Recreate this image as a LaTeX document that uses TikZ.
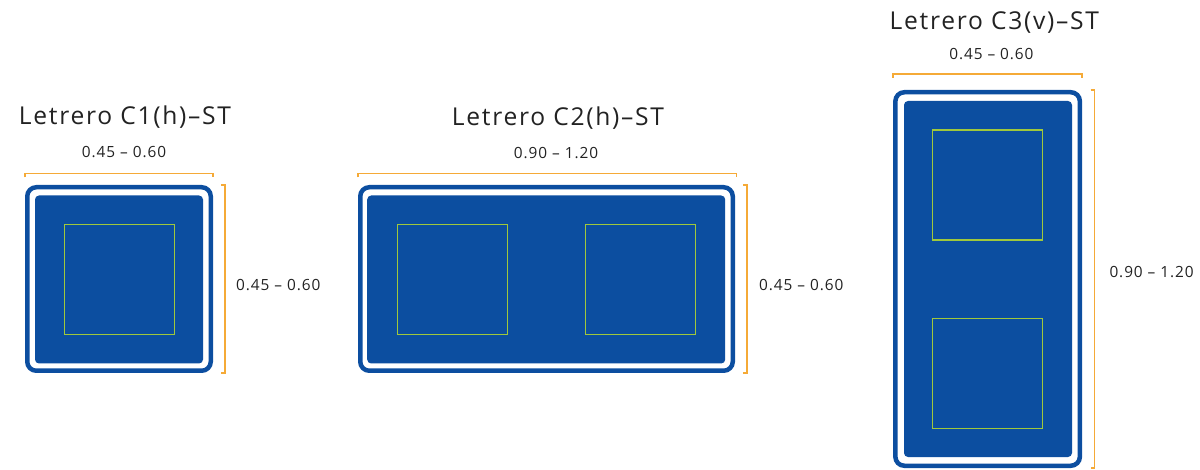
\documentclass[tikz,border=0pt]{standalone}
\usepackage{fontspec}
\setmainfont{Open Sans}
\newfontfamily\titlefont[LetterSpace=7]{Open Sans}
\newfontfamily\dimfont[LetterSpace=6]{Open Sans}
\usetikzlibrary{calc}
\definecolor{signblue}{RGB}{12,78,160}
\definecolor{panelline}{RGB}{160,200,60}
\definecolor{dimorange}{RGB}{245,170,55}
\definecolor{textgray}{RGB}{34,34,34}
\tikzset{
  signframe/.style={draw=signblue, line width=4.5pt, fill=white, rounded corners=9pt, inner sep=0pt, outer sep=2.25pt},
  signface/.style={fill=signblue, rounded corners=4pt, inner sep=0pt, outer sep=0pt},
  panel/.style={draw=panelline, line width=1.2pt, minimum width=110pt, minimum height=110pt, inner sep=0pt},
  dimline/.style={draw=dimorange, line width=1.4pt},
  dimtext/.style={text=textgray, font=\dimfont\fontsize{15.4}{18}\selectfont, inner sep=0pt},
  titletext/.style={text=textgray, font=\titlefont\fontsize{24.6}{28}\selectfont, inner sep=0pt},
}
\begin{document}
\begin{tikzpicture}[x=1pt,y=-1pt]
\useasboundingbox (0,0) rectangle (1200,470);

% ---------- C1 ----------
\node[signframe, minimum width=183.5pt, minimum height=183.5pt] (c1) at (119,279) {};
\node[signface, minimum width=168pt, minimum height=168pt] (c1f) at (119,279.5) {};
\node[panel] (c1p) at (119.3,279.3) {};
\node[titletext, anchor=base] (c1t) at (125,124.3) {Letrero C1(h)–ST};
\coordinate (c1a) at ($(c1.north west)+(0,-11.5)$);
\coordinate (c1b) at ($(c1.north east)+(0,-11.5)$);
\draw[dimline] ($(c1a)+(0,4)$) -- (c1a) -- (c1b) -- ($(c1b)+(0,4)$);
\coordinate (c1c) at ($(c1.north east)+(12,0)$);
\coordinate (c1d) at ($(c1.south east)+(12,0)$);
\draw[dimline] ($(c1c)+(-4,0)$) -- (c1c) -- (c1d) -- ($(c1d)+(-4,0)$);
\node[dimtext, anchor=base] (c1w) at (124,157.7) {0.45 – 0.60};
\node[dimtext, anchor=west] (c1h) at (236,284.7) {0.45 – 0.60};

% ---------- C2 ----------
\node[signframe, minimum width=372.5pt, minimum height=183.5pt] (c2) at (546.5,279) {};
\node[signface, minimum width=358pt, minimum height=168pt] (c2f) at (546.2,279.5) {};
\node[panel] (c2p1) at (452.3,279.3) {};
\node[panel] (c2p2) at (640.8,279.3) {};
\node[titletext, anchor=base] (c2t) at (558,125.7) {Letrero C2(h)–ST};
\coordinate (c2a) at ($(c2.north west)+(0,-11.5)$);
\coordinate (c2b) at ($(c2.north east)+(1.5,-11.5)$);
\draw[dimline] ($(c2a)+(0,4)$) -- (c2a) -- (c2b) -- ($(c2b)+(0,4)$);
\coordinate (c2c) at ($(c2.north east)+(12,0)$);
\coordinate (c2d) at ($(c2.south east)+(12,0)$);
\draw[dimline] ($(c2c)+(-4,0)$) -- (c2c) -- (c2d) -- ($(c2d)+(-4,0)$);
\node[dimtext, anchor=base] (c2w) at (556,159) {0.90 – 1.20};
\node[dimtext, anchor=west] (c2h) at (759,285) {0.45 – 0.60};

% ---------- C3 ----------
\node[signframe, minimum width=184.5pt, minimum height=373.5pt] (c3) at (987.6,279) {};
\node[signface, minimum width=168pt, minimum height=356pt] (c3f) at (988,279) {};
\node[panel] (c3p1) at (987.7,185) {};
\node[panel] (c3p2) at (987.7,373.5) {};
\node[titletext, anchor=base] (c3t) at (994.3,29.3) {Letrero C3(v)–ST};
\coordinate (c3a) at ($(c3.north west)+(0,-16)$);
\coordinate (c3b) at ($(c3.north east)+(0,-16)$);
\draw[dimline] ($(c3a)+(0,4)$) -- (c3a) -- (c3b) -- ($(c3b)+(0,4)$);
\coordinate (c3c) at ($(c3.north east)+(12.5,0)$);
\coordinate (c3d) at ($(c3.south east)+(12.5,0)$);
\draw[dimline] ($(c3c)+(-4,0)$) -- (c3c) -- (c3d) -- ($(c3d)+(-4,0)$);
\node[dimtext, anchor=base] (c3w) at (991.4,59.3) {0.45 – 0.60};
\node[dimtext, anchor=west] (c3h) at (1109.3,272.2) {0.90 – 1.20};
\end{tikzpicture}
\end{document}
